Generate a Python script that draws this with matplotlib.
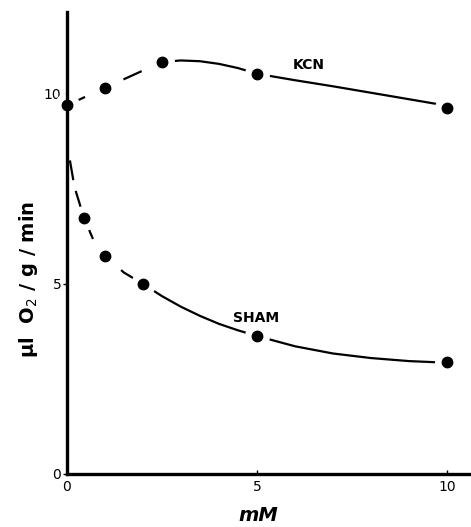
import matplotlib
matplotlib.use("Agg")
import matplotlib.pyplot as plt

# ---- data ----
kcn_x = [0, 1, 2.5, 5, 10]
kcn_y = [9.7, 10.16, 10.84, 10.53, 9.63]
sham_x = [0.45, 1, 2, 5, 10]
sham_y = [6.74, 5.74, 5.0, 3.63, 2.95]

# hand-drawn curves through the points
kcn_curve_dash_x = [0.0, 1.0, 2.5]
kcn_curve_dash_y = [9.7, 10.16, 10.84]
kcn_curve_x = [2.5, 3.0, 3.5, 4.0, 4.5, 5.0, 6.0, 7.0, 8.0, 9.0, 9.7]
kcn_curve_y = [10.84, 10.88, 10.86, 10.79, 10.68, 10.53, 10.36, 10.2, 10.03, 9.86, 9.74]
sham_curve_dash_x = [0.08, 0.2, 0.45, 0.7, 1.0, 1.5, 2.0]
sham_curve_dash_y = [8.25, 7.55, 6.74, 6.15, 5.74, 5.3, 5.0]
sham_curve_x = [2.0, 2.5, 3.0, 3.5, 4.0, 4.5, 5.0, 6.0, 7.0, 8.0, 9.0, 9.7]
sham_curve_y = [5.0, 4.68, 4.4, 4.16, 3.95, 3.78, 3.63, 3.36, 3.17, 3.05, 2.97, 2.94]

ticks = [0, 5, 10]

fig = plt.figure(figsize=(4.71, 5.27), dpi=100)
ax = fig.add_axes([0.142, 0.1006, 0.858, 0.877])
ax.set_xlim(0, 10.63)
ax.set_ylim(0, 12.16)

lw = 1.6
ax.plot(kcn_curve_dash_x, kcn_curve_dash_y, color="black", lw=lw, ls=(0, (9, 5)))
ax.plot(kcn_curve_x, kcn_curve_y, color="black", lw=lw)
ax.plot(sham_curve_dash_x, sham_curve_dash_y, color="black", lw=lw, ls=(0, (9, 5)))
ax.plot(sham_curve_x, sham_curve_y, color="black", lw=lw)

# white halo to break lines at dots (kept under the spines)
for xs, ys in [(kcn_x, kcn_y), (sham_x, sham_y)]:
    ax.plot(xs, ys, "o", color="white", ms=17, zorder=2.2, clip_on=False)
    ax.plot(xs, ys, "o", color="black", ms=7.5, zorder=4, clip_on=False)

ax.text(5.95, 10.76, "KCN", fontsize=10, fontweight="bold", va="center")
ax.text(4.37, 4.1, "SHAM", fontsize=10, fontweight="bold", va="center")

for s in ["top", "right"]:
    ax.spines[s].set_visible(False)
for s in ["left", "bottom"]:
    ax.spines[s].set_linewidth(2.4)
    ax.spines[s].set_zorder(3)

ax.set_xticks(ticks)
ax.set_yticks(ticks)
ax.set_xticklabels([str(t) for t in ticks], fontsize=10)
ax.set_yticklabels([str(t) for t in ticks], fontsize=10)
ax.tick_params(axis="x", direction="in", length=3, width=1, pad=4)
ax.tick_params(axis="y", direction="out", length=3, width=1, pad=1)

fig.text(0.06, 0.47, r"$\mathbf{\mu l}$  O$_2$ / g / min", rotation=90,
         fontsize=14, fontweight="bold", ha="center", va="center")
fig.text(0.548, 0.022, "mM", fontsize=14, fontweight="bold", style="italic",
         ha="center", va="center")

fig.savefig("out.png", dpi=100)
